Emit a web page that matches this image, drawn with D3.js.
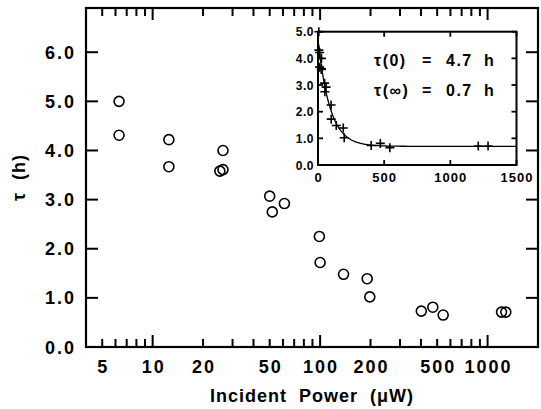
<!DOCTYPE html>
<html><head><meta charset="utf-8">
<script src="https://cdn.jsdelivr.net/npm/d3@7"></script>
<style>body{margin:0;background:#fff}text{font-family:"Liberation Sans",Arial,sans-serif;fill:#000}</style>
</head><body>
<svg id="c" width="541" height="409"></svg>
<script>
const power = [6.3, 6.3, 12.5, 12.5, 25.2, 26.3, 26.3, 50, 51.8, 61.2, 99, 100, 138, 191, 198, 402, 471, 543, 1211, 1285];
const tau   = [5.0, 4.31, 4.22, 3.67, 3.58, 3.61, 4.0, 3.07, 2.75, 2.92, 2.25, 1.72, 1.48, 1.39, 1.02, 0.73, 0.81, 0.65, 0.71, 0.71];
const xTickLabels = [5, 10, 20, 50, 100, 200, 500, 1000];
const yTickLabels = [0, 1, 2, 3, 4, 5, 6];
const insetXTicks = [0, 500, 1000, 1500];
const insetYTicks = [0, 1, 2, 3, 4, 5];
const tau0 = 4.7, tauInf = 0.7, p0 = 90;

const svg = d3.select("#c");
const L = 86, R = 538, T = 8, B = 347;
const x = d3.scaleLog().domain([4, 2000]).range([L, R]);
const y = d3.scaleLinear().domain([0, 6.9]).range([B, T]);

const allTicks = [];
for (let d = 1; d <= 1000; d *= 10) for (let m = 1; m <= 9; m++) { const v = d * m; if (v >= 4 && v <= 2000) allTicks.push(v); }
const isMajor = v => [10, 100, 1000].includes(v);
const g = svg.append("g");
allTicks.forEach(v => {
  const len = isMajor(v) ? 12 : 8;
  g.append("line").attr("x1", x(v)).attr("x2", x(v)).attr("y1", B).attr("y2", B - len).attr("stroke", "#000").attr("stroke-width", 2);
  g.append("line").attr("x1", x(v)).attr("x2", x(v)).attr("y1", T).attr("y2", T + len).attr("stroke", "#000").attr("stroke-width", 2);
});
yTickLabels.forEach(v => {
  g.append("line").attr("x1", L).attr("x2", L + 12).attr("y1", y(v)).attr("y2", y(v)).attr("stroke", "#000").attr("stroke-width", 2);
  g.append("line").attr("x1", R).attr("x2", R - 12).attr("y1", y(v)).attr("y2", y(v)).attr("stroke", "#000").attr("stroke-width", 2);
  g.append("text").attr("x", 76).attr("y", y(v) + 6.5).attr("text-anchor", "end")
    .attr("font-size", 18).attr("font-weight", "bold").attr("letter-spacing", 2).text(v.toFixed(1));
});
xTickLabels.forEach(v => {
  g.append("text").attr("x", x(v) + 1).attr("y", 373).attr("text-anchor", "middle")
    .attr("font-size", 18).attr("font-weight", "bold").attr("letter-spacing", 2).text(v);
});
g.append("rect").attr("x", L).attr("y", T).attr("width", R - L).attr("height", B - T)
  .attr("fill", "none").attr("stroke", "#000").attr("stroke-width", 2.2);

g.append("text").attr("x", (L + R) / 2).attr("y", 402).attr("text-anchor", "middle")
  .attr("font-size", 18).attr("font-weight", "bold").attr("letter-spacing", 1).attr("xml:space", "preserve").text("Incident  Power  (\u03BCW)");
g.append("text").attr("transform", `translate(25,${(T + B) / 2}) rotate(-90)`).attr("text-anchor", "middle")
  .attr("font-size", 18).attr("font-weight", "bold").attr("letter-spacing", 1).attr("xml:space", "preserve").text("\u03C4  (h)");

g.selectAll("circle.d").data(power).enter().append("circle")
  .attr("cx", (d) => x(d)).attr("cy", (d, i) => y(tau[i])).attr("r", 5)
  .attr("fill", "none").attr("stroke", "#000").attr("stroke-width", 1.6);

// inset
const iL = 318, iR = 516.5, iT = 31.7, iB = 165;
const ix = d3.scaleLinear().domain([0, 1500]).range([iL, iR]);
const iy = d3.scaleLinear().domain([0, 5]).range([iB, iT]);
const ig = svg.append("g");
ig.append("rect").attr("x", iL).attr("y", iT).attr("width", iR - iL).attr("height", iB - iT).attr("fill", "#fff");
insetXTicks.forEach(v => {
  ig.append("line").attr("x1", ix(v)).attr("x2", ix(v)).attr("y1", iB).attr("y2", iB - 5).attr("stroke", "#000").attr("stroke-width", 1.8);
  ig.append("line").attr("x1", ix(v)).attr("x2", ix(v)).attr("y1", iT).attr("y2", iT + 5).attr("stroke", "#000").attr("stroke-width", 1.8);
  ig.append("text").attr("x", ix(v) + 0.5).attr("y", 182).attr("text-anchor", "middle")
    .attr("font-size", 13).attr("font-weight", "bold").attr("letter-spacing", 1).text(v);
});
insetYTicks.forEach(v => {
  ig.append("line").attr("x1", iL).attr("x2", iL + 5).attr("y1", iy(v)).attr("y2", iy(v)).attr("stroke", "#000").attr("stroke-width", 1.8);
  ig.append("line").attr("x1", iR).attr("x2", iR - 5).attr("y1", iy(v)).attr("y2", iy(v)).attr("stroke", "#000").attr("stroke-width", 1.8);
  ig.append("text").attr("x", 314).attr("y", iy(v) + 4.5).attr("text-anchor", "end")
    .attr("font-size", 12).attr("font-weight", "bold").attr("letter-spacing", 0.5).text(v.toFixed(1));
});
const curveP = d3.range(0, 1501, 5);
ig.append("path").datum(curveP)
  .attr("d", d3.line().x(p => ix(p)).y(p => iy(tauInf + (tau0 - tauInf) * Math.exp(-p / p0))))
  .attr("fill", "none").attr("stroke", "#000").attr("stroke-width", 1.3);
power.forEach((p, i) => {
  const cx = ix(p), cy = iy(tau[i]), s = 4.5;
  ig.append("path").attr("d", `M${cx - s},${cy}H${cx + s}M${cx},${cy - s}V${cy + s}`)
    .attr("stroke", "#000").attr("stroke-width", 1.6).attr("fill", "none");
});
ig.append("rect").attr("x", iL).attr("y", iT).attr("width", iR - iL).attr("height", iB - iT)
  .attr("fill", "none").attr("stroke", "#000").attr("stroke-width", 2);
const rows = [["\u03C4(0)", "4.7", 66], ["\u03C4(\u221E)", "0.7", 96]];
rows.forEach(([lab, val, yy]) => {
  const t = ig.append("text").attr("y", yy).attr("font-size", 16).attr("font-weight", "bold").attr("letter-spacing", 1.5);
  t.append("tspan").attr("x", 374).text(lab);
  t.append("tspan").attr("x", 422).text("=");
  t.append("tspan").attr("x", 446).text(val);
  t.append("tspan").attr("x", 484).text("h");
});
</script>
</body></html>
